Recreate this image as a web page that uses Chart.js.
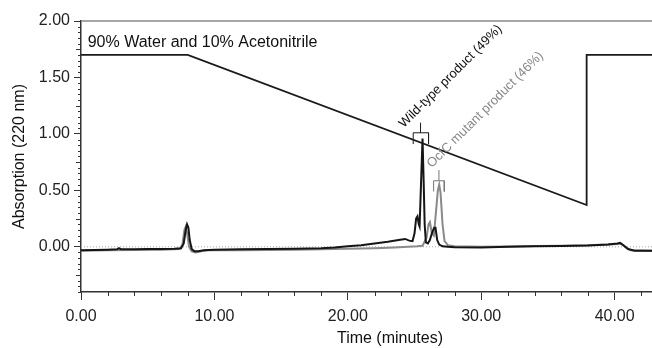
<!DOCTYPE html>
<html>
<head>
<meta charset="utf-8">
<script src="https://cdn.jsdelivr.net/npm/chart.js@4/dist/chart.umd.min.js"></script>
<style>
  html, body { margin: 0; padding: 0; background: #fff; }
  #wrap { width: 652px; height: 348px; position: relative; }
</style>
</head>
<body>
<div id="wrap"><canvas id="chart"></canvas></div>
<script>
const FONT = '"Liberation Sans", Arial, sans-serif';

// axis ticks
const xTicks = [0, 10, 20, 30, 40];
const yTicks = [0, 0.5, 1.0, 1.5, 2.0];
const xRange = [0, 42.8];
const yRange = [-0.4, 2.0];

// solvent gradient (drawn on absorption scale)
const gradientLine = [[0, 1.70], [8.0, 1.70], [37.9, 0.37], [37.9, 1.70], [42.8, 1.70]];

// wild-type trace (black)
const wildType = [
    [0, -0.03], [1.0, -0.028], [2.0, -0.025], [2.7, -0.022], [2.85, -0.012], [3.0, -0.022],
    [4, -0.022], [5, -0.02], [6, -0.02], [7, -0.018], [7.5, -0.012], [7.7, 0.03],
    [7.85, 0.15], [7.95, 0.20], [8.05, 0.17], [8.15, 0.06], [8.3, -0.02], [8.5, -0.04],
    [8.8, -0.04], [9.2, -0.03], [10, -0.025], [12, -0.022], [14, -0.02], [16, -0.018],
    [18, -0.012], [19, -0.005], [20, 0.005], [21, 0.015], [22, 0.03], [23, 0.045],
    [23.8, 0.06], [24.3, 0.07], [24.6, 0.055], [24.85, 0.05], [25.0, 0.12], [25.12, 0.25],
    [25.22, 0.27], [25.32, 0.2], [25.38, 0.18], [25.47, 0.5], [25.6, 0.96], [25.68, 0.6],
    [25.76, 0.2], [25.85, 0.04], [26.0, 0.03], [26.15, 0.06], [26.3, 0.12], [26.47, 0.17],
    [26.57, 0.17], [26.7, 0.06], [26.85, 0.02], [27.1, 0.005], [27.5, 0.0], [28, -0.003],
    [30, -0.005], [32, 0.0], [34, 0.005], [36, 0.008], [38, 0.012], [39.5, 0.02],
    [40.2, 0.03], [40.4, 0.035], [40.7, 0.01], [41.0, -0.02], [41.5, -0.035], [42.8, -0.035]
];

// OcfC mutant trace (grey)
const mutant = [
    [0, -0.035], [2, -0.03], [4, -0.028], [6, -0.025], [7.4, -0.02], [7.6, 0.02],
    [7.75, 0.15], [7.85, 0.18], [7.95, 0.12], [8.1, 0.0], [8.3, -0.04], [8.6, -0.05],
    [9.0, -0.04], [9.5, -0.03], [12, -0.03], [14, -0.028], [16, -0.025], [18, -0.022],
    [20, -0.018], [22, -0.012], [23.5, -0.005], [24.5, 0.0], [25.2, 0.005], [25.6, 0.01],
    [25.9, 0.08], [26.05, 0.2], [26.15, 0.22], [26.3, 0.12], [26.45, 0.1], [26.6, 0.3],
    [26.75, 0.5], [26.85, 0.55], [26.95, 0.48], [27.1, 0.2], [27.25, 0.05], [27.5, 0.015],
    [28, 0.005], [30, 0.0], [32, 0.002], [34, 0.008], [36, 0.01], [38, 0.015],
    [39.5, 0.02], [40.2, 0.025], [40.5, 0.03], [40.8, 0.0], [41.2, -0.03], [42.8, -0.035]
];

const zeroLine = [[0, 0], [42.8, 0]];

// peak brackets
const wtBracket = [[24.9, 0.91], [24.9, 1.01], [26.05, 1.01], [26.05, 0.91]];
const wtStem = [[25.45, 1.01], [25.45, 1.10]];
const mutBracket = [[26.43, 0.49], [26.43, 0.585], [27.23, 0.585], [27.23, 0.49]];
const mutStem = [[26.83, 0.585], [26.83, 0.68]];

const toXY = arr => arr.map(p => ({ x: p[0], y: p[1] }));

function lineSet(data, color, width, order, extra) {
    return Object.assign({
        data: toXY(data),
        borderColor: color,
        borderWidth: width,
        pointRadius: 0,
        showLine: true,
        fill: false,
        tension: 0,
        order: order
    }, extra || {});
}

const annotate = {
    id: 'annotate',
    afterDraw(chart) {
        const { ctx, chartArea, scales: { x, y } } = chart;
        ctx.save();

        // top frame line
        ctx.strokeStyle = '#888';
        ctx.lineWidth = 1.5;
        ctx.beginPath();
        ctx.moveTo(chartArea.left, chartArea.top);
        ctx.lineTo(chartArea.right, chartArea.top);
        ctx.stroke();

        // minor ticks
        ctx.strokeStyle = '#333';
        ctx.lineWidth = 1;
        ctx.beginPath();
        for (let v = 2; v < xRange[1]; v += 2) {
            if (v % 10 === 0) continue;
            const px = Math.round(x.getPixelForValue(v)) + 0.5;
            ctx.moveTo(px, chartArea.bottom);
            ctx.lineTo(px, chartArea.bottom + 4);
        }
        for (let i = -8; i <= 40; i++) {
            if (i % 10 === 0) continue;
            const v = i * 0.05;
            const py = Math.round(y.getPixelForValue(v)) + 0.5;
            const len = (i % 5 === 0) ? 5 : 3;
            ctx.moveTo(chartArea.left, py);
            ctx.lineTo(chartArea.left - len, py);
        }
        ctx.stroke();

        // gradient label
        ctx.fillStyle = '#111';
        ctx.font = '16px ' + FONT;
        ctx.textAlign = 'left';
        ctx.textBaseline = 'middle';
        ctx.fillText('90% Water and 10% Acetonitrile', x.getPixelForValue(0.5), y.getPixelForValue(1.81));

        // rotated peak labels
        ctx.font = '13px ' + FONT;
        ctx.textBaseline = 'alphabetic';
        ctx.save();
        ctx.translate(x.getPixelForValue(24.2), y.getPixelForValue(1.05));
        ctx.rotate(-Math.PI / 4);
        ctx.fillStyle = '#111';
        ctx.fillText('Wild-type product (49%)', 0, 0);
        ctx.restore();

        ctx.save();
        ctx.translate(x.getPixelForValue(26.3), y.getPixelForValue(0.695));
        ctx.rotate(-Math.PI / 4);
        ctx.fillStyle = '#888';
        ctx.fillText('OcfC mutant product (46%)', 0, 0);
        ctx.restore();

        // axis titles
        ctx.fillStyle = '#111';
        ctx.font = '16px ' + FONT;
        ctx.textAlign = 'center';
        ctx.textBaseline = 'middle';
        ctx.fillText('Time (minutes)', 390, 339);
        ctx.save();
        ctx.translate(20, (chartArea.top + chartArea.bottom) / 2);
        ctx.rotate(-Math.PI / 2);
        ctx.fillText('Absorption (220 nm)', 0, 0);
        ctx.restore();

        ctx.restore();
    }
};

const ctx = document.getElementById('chart').getContext('2d');
new Chart(ctx, {
    type: 'scatter',
    data: {
        datasets: [
            lineSet(gradientLine, '#1a1a1a', 1.8, 0),
            lineSet(wtBracket, '#1a1a1a', 1, 0),
            lineSet(wtStem, '#1a1a1a', 1, 0),
            lineSet(mutBracket, '#777', 1, 0),
            lineSet(mutStem, '#777', 1, 0),
            lineSet(wildType, '#151515', 2, 1),
            lineSet(mutant, '#8a8a8a', 2, 2),
            lineSet(zeroLine, '#aaa', 1, 3, { borderDash: [1, 2] })
        ]
    },
    options: {
        responsive: true,
        maintainAspectRatio: false,
        animation: false,
        layout: { padding: { top: 21, right: 0, left: 0, bottom: 0 } },
        plugins: {
            legend: { display: false },
            tooltip: { enabled: false }
        },
        scales: {
            x: {
                type: 'linear',
                min: xRange[0],
                max: xRange[1],
                afterBuildTicks: s => { s.ticks = xTicks.map(v => ({ value: v })); },
                afterFit: s => { s.height = 56; },
                ticks: {
                    callback: v => Number(v).toFixed(2),
                    font: { size: 16, family: FONT },
                    color: '#222',
                    padding: 7,
                    maxRotation: 0,
                    autoSkip: false
                },
                grid: { drawOnChartArea: false, drawTicks: true, tickLength: 8, color: '#333' },
                border: { display: true, color: '#333', width: 1.5 }
            },
            y: {
                type: 'linear',
                min: yRange[0],
                max: yRange[1],
                afterBuildTicks: s => { s.ticks = yTicks.map(v => ({ value: v })); },
                afterFit: s => { s.width = 81; },
                ticks: {
                    callback: v => Number(v).toFixed(2),
                    font: { size: 16, family: FONT },
                    color: '#222',
                    padding: 4,
                    autoSkip: false
                },
                grid: { drawOnChartArea: false, drawTicks: true, tickLength: 7, color: '#333' },
                border: { display: true, color: '#333', width: 1.5 }
            }
        }
    },
    plugins: [annotate]
});
</script>
</body>
</html>
